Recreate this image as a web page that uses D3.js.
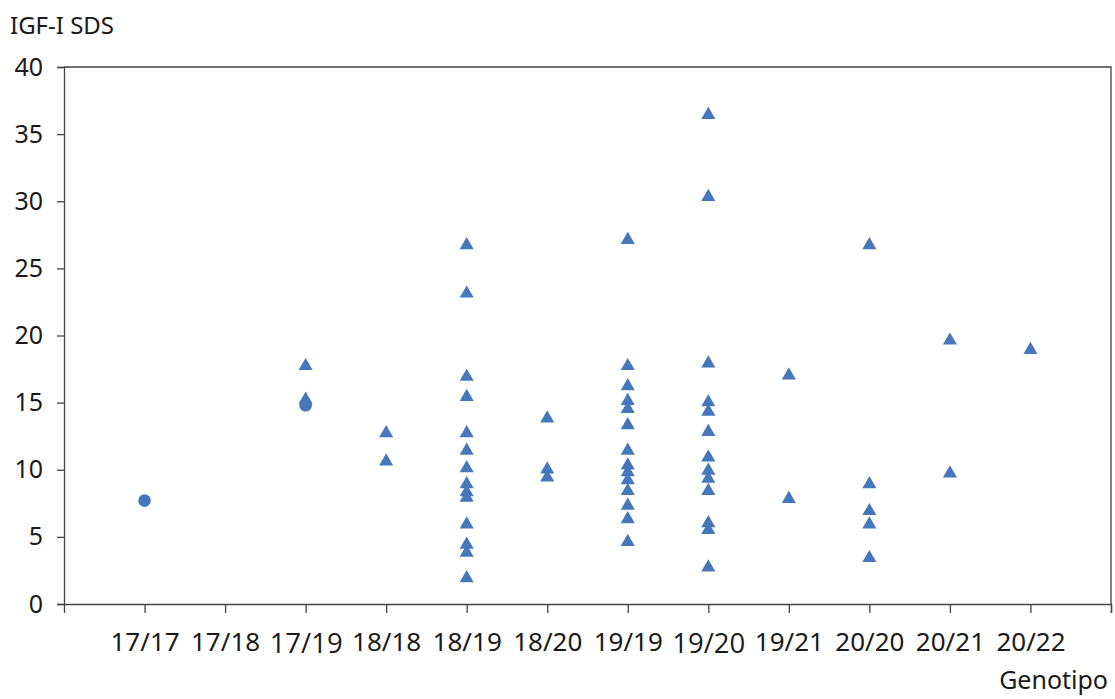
<!DOCTYPE html>
<html>
<head>
<meta charset="utf-8">
<script src="https://cdn.jsdelivr.net/npm/d3@7"></script>
<style>
  body { margin: 0; background: #fff; }
  svg { display: block; }
</style>
</head>
<body>
<div id="chart"></div>
<script>
// Genotype categories on the x axis (positions 1..12)
var genotypes = ["17/17", "17/18", "17/19", "18/18", "18/19", "18/20",
                 "19/19", "19/20", "19/21", "20/20", "20/21", "20/22"];

// IGF-I SDS values drawn as triangles, one list per genotype
var triangleSds = [
  [],
  [],
  [17.8, 15.3],
  [12.8, 10.7],
  [26.8, 23.2, 17.0, 15.5, 12.8, 11.5, 10.2, 9.0, 8.4, 8.0, 6.0, 4.5, 3.9, 2.0],
  [13.9, 10.1, 9.5],
  [27.2, 17.8, 16.3, 15.2, 14.6, 13.4, 11.5, 10.4, 9.9, 9.3, 8.5, 7.4, 6.4, 4.7],
  [36.5, 30.4, 18.0, 15.1, 14.4, 12.9, 11.0, 10.0, 9.4, 8.5, 6.1, 5.6, 2.8],
  [17.1, 7.9],
  [26.8, 9.0, 7.0, 6.0, 3.5],
  [19.7, 9.8],
  [19.0]
];

// values drawn as circles
var circleGenotype = ["17/17", "17/19"];
var circleSds = [7.7, 14.8];

var yTicks = [0, 5, 10, 15, 20, 25, 30, 35, 40];
var yTitle = "IGF-I SDS";
var xTitle = "Genotipo";

var width = 1115, height = 699;
var margin = {top: 67, right: 4, bottom: 95, left: 64};
var plotW = width - margin.left - margin.right,
  plotH = height - margin.top - margin.bottom;

var blue = "#4677ba", ink = "#1a1a1a";
var font = "'Noto Sans', 'Open Sans', sans-serif";

var svg = d3.select("#chart").append("svg")
  .attr("width", width)
  .attr("height", height);

var g = svg.append("g")
  .attr("transform", "translate(" + margin.left + "," + margin.top + ")");

// genotype i sits at position i+1, the axis runs 0..13
var xScale = d3.scaleLinear().domain([0, genotypes.length + 1]).range([0, plotW]);
var yScale = d3.scaleLinear().domain([0, 40]).range([plotH, 0]);
var xPos = function(name) { return xScale(genotypes.indexOf(name) + 1); };

// plot frame (top + right)
g.append("path")
  .attr("d", "M0,0H" + plotW + "V" + plotH)
  .attr("fill", "none")
  .attr("stroke", "#444")
  .attr("stroke-width", 1.3);

// Y axis
var yAxis = g.append("g")
  .call(d3.axisLeft(yScale).tickValues(yTicks).tickSize(7).tickPadding(14));
yAxis.select(".domain").attr("stroke", "#444").attr("stroke-width", 1.3);
yAxis.selectAll(".tick line").attr("stroke", "#444").attr("stroke-width", 1.3);
yAxis.selectAll("text")
  .style("font-family", font)
  .style("font-size", "25px")
  .attr("fill", ink);

// X axis: ticks at every position, labels only for genotypes
var xAxis = g.append("g")
  .attr("transform", "translate(0," + plotH + ")")
  .call(d3.axisBottom(xScale)
    .tickValues(d3.range(1, genotypes.length + 2))
    .tickSize(9)
    .tickPadding(20)
    .tickFormat(function(d) { return genotypes[d - 1] || ""; }));
xAxis.select(".domain").attr("stroke", "#444").attr("stroke-width", 1.3);
xAxis.selectAll(".tick line").attr("stroke", "#444").attr("stroke-width", 1.3);

// two of the labels were typed in a slightly larger face
var bigLabels = ["17/19", "19/20"];
xAxis.selectAll("text")
  .attr("fill", ink)
  .style("font-family", function(d) {
    return bigLabels.indexOf(genotypes[d - 1]) >= 0 ? "'Open Sans', sans-serif" : font;
  })
  .style("font-size", function(d) {
    return bigLabels.indexOf(genotypes[d - 1]) >= 0 ? "27.5px" : "26px";
  });

// Axis titles
svg.append("text")
  .attr("x", 10)
  .attr("y", 34)
  .style("font-family", font)
  .style("font-size", "24px")
  .attr("fill", ink)
  .text(yTitle);

svg.append("text")
  .attr("x", 1108)
  .attr("y", 689)
  .attr("text-anchor", "end")
  .style("font-family", font)
  .style("font-size", "25px")
  .attr("fill", ink)
  .text(xTitle);

// Flatten triangle series into points
var triPoints = [];
triangleSds.forEach(function(vals, i) {
  vals.forEach(function(v) { triPoints.push({geno: genotypes[i], v: v}); });
});

var circPoints = circleSds.map(function(v, i) { return {geno: circleGenotype[i], v: v}; });

var tri = d3.symbol().type(d3.symbolTriangle).size(86);

// circles first so the triangle at 17/19 sits on top of it
g.selectAll(".circ")
  .data(circPoints)
  .enter().append("circle")
  .attr("class", "circ")
  .attr("cx", function(d) { return xPos(d.geno); })
  .attr("cy", function(d) { return yScale(d.v); })
  .attr("r", 6.3)
  .attr("fill", blue);

g.selectAll(".tri")
  .data(triPoints)
  .enter().append("path")
  .attr("class", "tri")
  .attr("d", tri)
  .attr("transform", function(d) {
    return "translate(" + xPos(d.geno) + "," + (yScale(d.v) + 1) + ")";
  })
  .attr("fill", blue);
</script>
</body>
</html>
